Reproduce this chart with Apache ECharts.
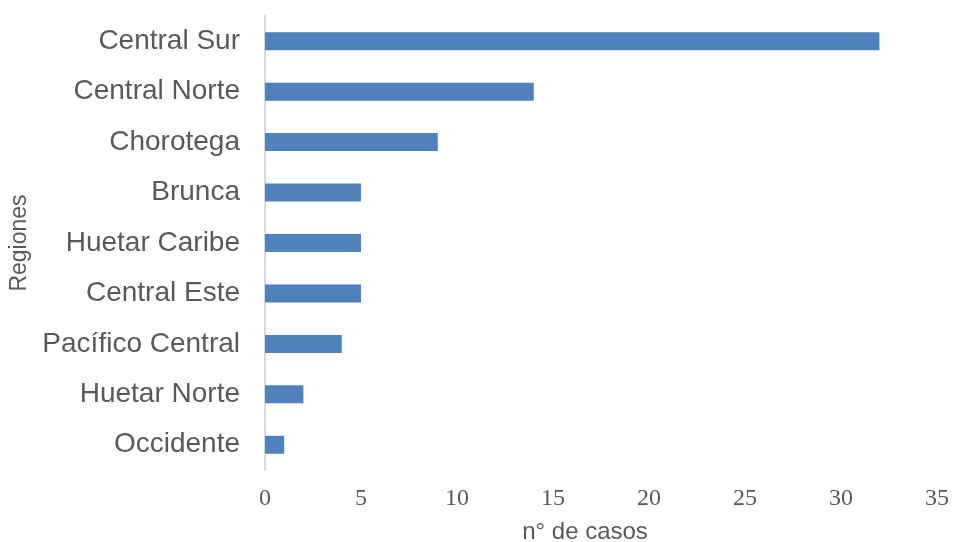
<!DOCTYPE html>
<html><head><meta charset="utf-8">
<script src="https://cdn.jsdelivr.net/npm/echarts@6/dist/echarts.min.js"></script>
<style>html,body{margin:0;padding:0;background:#fff}#c{width:953px;height:542px}</style>
</head><body><div id="c"></div>
<script>
var categories = ["Central Sur","Central Norte","Chorotega","Brunca","Huetar Caribe","Central Este","Pacífico Central","Huetar Norte","Occidente"];
var values = [32,14,9,5,5,5,4,2,1];
var xTicks = [0,5,10,15,20,25,30,35];

var chart = echarts.init(document.getElementById('c'));
chart.setOption({
  animation:false,
  grid:{left:265,right:16,top:16,bottom:72,containLabel:false,outerBoundsMode:'none'},
  xAxis:{type:'value',min:0,max:35,interval:5,
    axisLine:{show:false},axisTick:{show:false},splitLine:{show:false},
    axisLabel:{margin:17,color:'#595959',fontFamily:'Liberation Serif',fontSize:24,
      formatter:function(v){return xTicks.indexOf(v)>=0?String(v):'';}},
    name:'n° de casos',nameLocation:'middle',nameGap:50,
    nameTextStyle:{color:'#595959',fontFamily:'Liberation Sans',fontSize:24,padding:[0,32,0,0]}},
  yAxis:{type:'category',data:categories,inverse:true,
    axisLine:{show:true,lineStyle:{color:'#d9d9d9',width:2}},axisTick:{show:false},
    axisLabel:{margin:25,color:'#595959',fontFamily:'Liberation Sans',fontSize:28},
    name:'Regiones',nameLocation:'middle',nameGap:231,nameRotate:90,
    nameTextStyle:{color:'#595959',fontFamily:'Liberation Sans',fontSize:23}},
  series:[{type:'bar',data:values,barWidth:18,itemStyle:{color:'#4F81BD'}}]
});
</script></body></html>
